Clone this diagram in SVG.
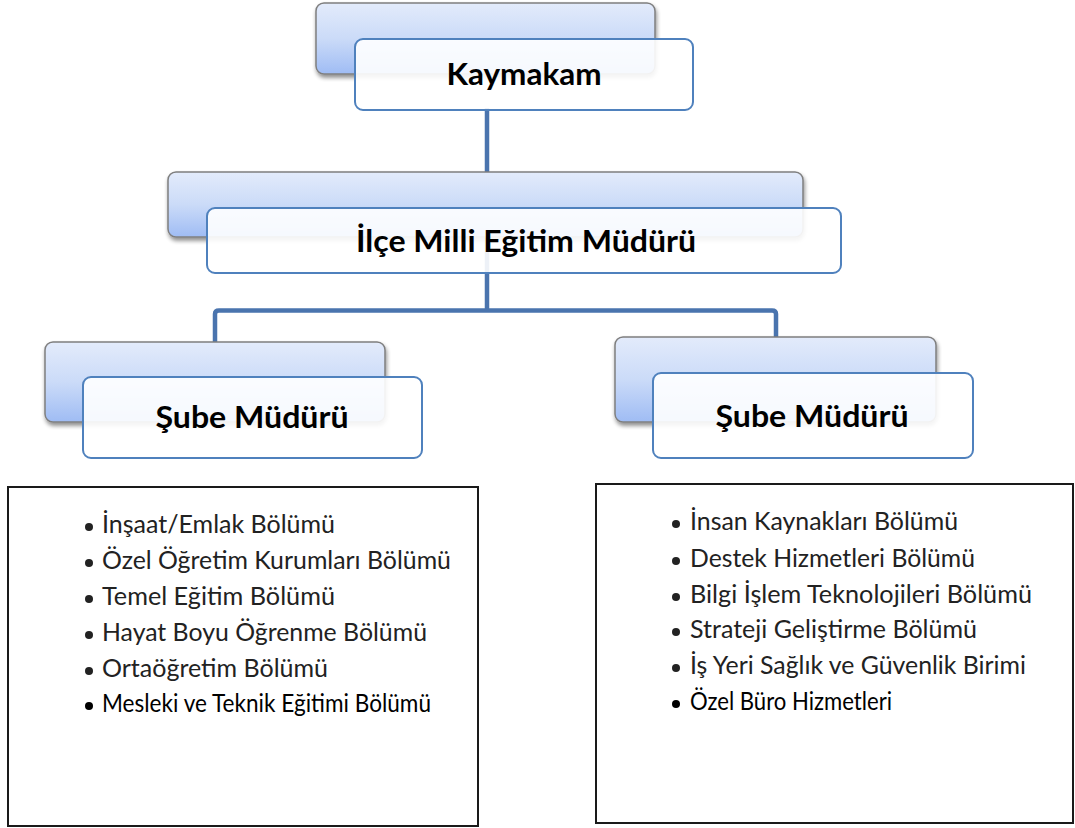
<svg xmlns="http://www.w3.org/2000/svg" width="1075" height="828" viewBox="0 0 1075 828">
<defs>
<linearGradient id="bg" x1="0" y1="0" x2="0" y2="1">
<stop offset="0" stop-color="#e3ebfb"/>
<stop offset="0.5" stop-color="#cbdbf8"/>
<stop offset="1" stop-color="#9fbcf4"/>
</linearGradient>
<filter id="sh" x="-5%" y="-10%" width="112%" height="130%">
<feGaussianBlur in="SourceAlpha" stdDeviation="2"/>
<feOffset dx="1" dy="3" result="o"/>
<feComponentTransfer><feFuncA type="linear" slope="0.45"/></feComponentTransfer>
<feMerge><feMergeNode/><feMergeNode in="SourceGraphic"/></feMerge>
</filter>
</defs>
<style>
.back{fill:url(#bg);stroke:#7f7f7f;stroke-width:1.5;filter:url(#sh)}
.front{fill:#ffffff;fill-opacity:0.9;stroke:#4f81bd;stroke-width:2}
.h{font-family:Lato,"Noto Sans",sans-serif;font-weight:bold;font-size:31px;fill:#000;text-anchor:middle}
.list{fill:#fff;stroke:#1a1a1a;stroke-width:2}
.it{font-family:Lato,"Noto Sans",sans-serif;font-size:25px;fill:#222}
.bu{fill:#222}
.blk{fill:#000}
.conn{fill:none;stroke:#4a74ae;stroke-width:4.5;stroke-linejoin:round}
</style>
<rect width="1075" height="828" fill="#fff"/>
<g id="connectors">
<path class="conn" d="M487,108 V310"/>
<path class="conn" d="M215,342 V314 Q215,310.5 219,310.5 H772 Q776,310.5 776,314 V337"/>
</g>
<g id="kaymakam">
<rect class="back" x="316" y="3" width="339" height="71" rx="8"/>
<rect class="front" x="355" y="39" width="338" height="71" rx="8"/>
<text class="h" x="524" y="85" textLength="155" lengthAdjust="spacingAndGlyphs">Kaymakam</text>
</g>
<g id="ilce">
<rect class="back" x="168" y="172" width="635" height="65" rx="8"/>
<rect class="front" x="207" y="208" width="634" height="65" rx="8"/>
<text class="h" x="526" y="252" textLength="340" lengthAdjust="spacingAndGlyphs">İlçe Milli Eğitim Müdürü</text>
</g>
<g id="sube1">
<rect class="back" x="45" y="342" width="340" height="80" rx="8"/>
<rect class="front" x="83" y="377" width="339" height="81" rx="8"/>
<text class="h" x="252" y="428" textLength="193" lengthAdjust="spacingAndGlyphs">Şube Müdürü</text>
</g>
<g id="sube2">
<rect class="back" x="615" y="337" width="321" height="85" rx="8"/>
<rect class="front" x="653" y="373" width="320" height="85" rx="8"/>
<text class="h" x="812" y="427" textLength="193" lengthAdjust="spacingAndGlyphs">Şube Müdürü</text>
</g>
<g id="list1">
<rect class="list" x="8" y="487" width="470" height="339"/>
<circle class="bu" cx="89" cy="527" r="4"/>
<text class="it" x="102" y="533" textLength="233" lengthAdjust="spacingAndGlyphs">İnşaat/Emlak Bölümü</text>
<circle class="bu" cx="89" cy="563" r="4"/>
<text class="it" x="102" y="569" textLength="349" lengthAdjust="spacingAndGlyphs">Özel Öğretim Kurumları Bölümü</text>
<circle class="bu" cx="89" cy="599" r="4"/>
<text class="it" x="102" y="605" textLength="233" lengthAdjust="spacingAndGlyphs">Temel Eğitim Bölümü</text>
<circle class="bu" cx="89" cy="635" r="4"/>
<text class="it" x="102" y="641" textLength="325" lengthAdjust="spacingAndGlyphs">Hayat Boyu Öğrenme Bölümü</text>
<circle class="bu" cx="89" cy="671" r="4"/>
<text class="it" x="102" y="677" textLength="226" lengthAdjust="spacingAndGlyphs">Ortaöğretim Bölümü</text>
<circle class="blk" cx="89" cy="706" r="4"/>
<text class="it blk" x="102" y="712" textLength="329" lengthAdjust="spacingAndGlyphs">Mesleki ve Teknik Eğitimi Bölümü</text>
</g>
<g id="list2">
<rect class="list" x="596" y="484" width="477" height="339"/>
<circle class="bu" cx="676" cy="524" r="4"/>
<text class="it" x="690" y="530" textLength="268" lengthAdjust="spacingAndGlyphs">İnsan Kaynakları Bölümü</text>
<circle class="bu" cx="676" cy="561" r="4"/>
<text class="it" x="690" y="567" textLength="285" lengthAdjust="spacingAndGlyphs">Destek Hizmetleri Bölümü</text>
<circle class="bu" cx="676" cy="597" r="4"/>
<text class="it" x="690" y="603" textLength="342" lengthAdjust="spacingAndGlyphs">Bilgi İşlem Teknolojileri Bölümü</text>
<circle class="bu" cx="676" cy="632" r="4"/>
<text class="it" x="690" y="638" textLength="287" lengthAdjust="spacingAndGlyphs">Strateji Geliştirme Bölümü</text>
<circle class="bu" cx="676" cy="668" r="4"/>
<text class="it" x="690" y="674" textLength="336" lengthAdjust="spacingAndGlyphs">İş Yeri Sağlık ve Güvenlik Birimi</text>
<circle class="blk" cx="676" cy="704" r="4"/>
<text class="it blk" x="690" y="710" textLength="202" lengthAdjust="spacingAndGlyphs">Özel Büro Hizmetleri</text>
</g>
</svg>
